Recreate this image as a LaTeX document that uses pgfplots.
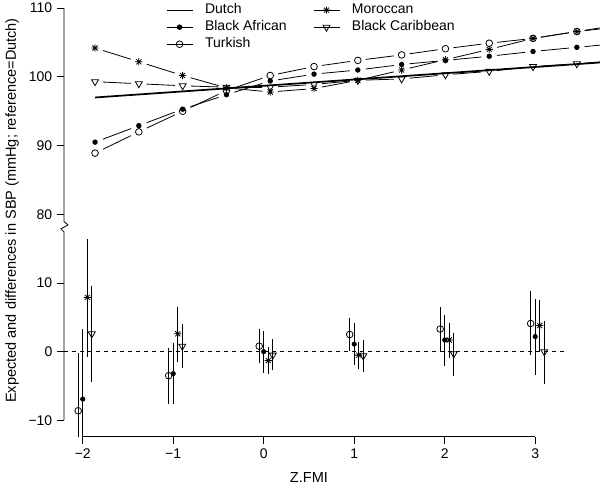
\documentclass[border=0pt]{standalone}
\usepackage{fontspec}
\setmainfont{Liberation Sans}
\usepackage{pgfplots}
\usepackage{pgfplotstable}
\pgfplotsset{compat=1.18}

\newcommand\fs{\fontsize{10.5}{12.6}\selectfont}
\newcommand\fl{\fontsize{10.9}{13}\selectfont}

% R pch=8: + and x together
\pgfdeclareplotmark{rstar}{%
  \pgfpathmoveto{\pgfqpoint{-\pgfplotmarksize}{0pt}}\pgfpathlineto{\pgfqpoint{\pgfplotmarksize}{0pt}}%
  \pgfpathmoveto{\pgfqpoint{0pt}{-\pgfplotmarksize}}\pgfpathlineto{\pgfqpoint{0pt}{\pgfplotmarksize}}%
  \pgfpathmoveto{\pgfqpoint{-0.7071\pgfplotmarksize}{-0.7071\pgfplotmarksize}}\pgfpathlineto{\pgfqpoint{0.7071\pgfplotmarksize}{0.7071\pgfplotmarksize}}%
  \pgfpathmoveto{\pgfqpoint{-0.7071\pgfplotmarksize}{0.7071\pgfplotmarksize}}\pgfpathlineto{\pgfqpoint{0.7071\pgfplotmarksize}{-0.7071\pgfplotmarksize}}%
  \pgfusepathqstroke}

% expected SBP (upper panel), plotted at y-60
\pgfplotstableread{
x      tur   baf   mor   car
-1.864 88.9  90.5  104.2 99.3
-1.380 92.0  92.9  102.2 99.0
-0.896 95.0  95.3  100.2 98.7
-0.412 98.0  97.4  98.4  98.5
0.072  100.2 99.4  97.8  98.5
0.556  101.5 100.4 98.3  98.9
1.040  102.4 101.0 99.5  99.5
1.524  103.2 101.8 101.0 99.7
2.008  104.1 102.4 102.5 100.3
2.492  104.9 103.0 104.0 100.8
2.976  105.6 103.7 105.6 101.5
3.460  106.6 104.3 106.6 101.9
3.944  107.3 104.9 107.6 102.4
}\upper
\pgfplotstableread{
x      dut
-1.864 97.0
3.944  102.3
}\dutch
\pgfplotstablecreatecol[create col/expr={\nextrow{x}-\thisrow{x}}]{dx}\upper
\pgfplotstablecreatecol[create col/expr={\nextrow{tur}-\thisrow{tur}}]{dtur}\upper
\pgfplotstablecreatecol[create col/expr={\nextrow{baf}-\thisrow{baf}}]{dbaf}\upper
\pgfplotstablecreatecol[create col/expr={\nextrow{mor}-\thisrow{mor}}]{dmor}\upper
\pgfplotstablecreatecol[create col/expr={\nextrow{car}-\thisrow{car}}]{dcar}\upper

% differences with 95% CI (lower panel)
\pgfplotstableread{
x  y    lo    hi
-2 -8.6 -16.6 -0.6
-1 -3.5 -7.2  0.2
0  0.8  -1.3  3.0
1  2.5  0.5   4.5
2  3.3  0.5   6.1
3  4.1  -0.1  8.4
}\ltur
\pgfplotstableread{
x  y    lo    hi
-2 -6.9 -16.7 2.9
-1 -3.2 -7.3  0.9
0  0.0  -2.7  2.6
1  1.1  -1.5  3.8
2  1.7  -1.7  5.0
3  2.2  -3.0  7.3
}\lbaf
\pgfplotstableread{
x  y    lo    hi
-2 7.9  -0.4  16.0
-1 2.6  -1.1  6.2
0  -1.3 -2.9  0.3
1  -0.5 -2.2  1.0
2  1.7  -0.5  3.8
3  3.8  0.5   7.2
}\lmor
\pgfplotstableread{
x  y    lo    hi
-2 2.6  -4.1  9.2
-1 0.8  -2.0  3.7
0  -0.5 -2.3  1.5
1  -0.6 -2.6  1.4
2  -0.3 -3.1  2.4
3  0.0  -4.4  4.1
}\lcar

% axis units in pt (402pt / 5.923, 327.5pt / 63.56)
\def\ux{67.872}
\def\uy{5.1526}

\pgfplotsset{
  % type="b": each point draws the segment to the next one, with gaps
  typeb/.style={forget plot, only marks, scatter, black,
    scatter/use mapped color={draw=black, fill=black},
    visualization depends on={\thisrow{dx} \as \ddx},
    visualization depends on={\thisrow{#1} \as \ddy},
    scatter/@pre marker code/.code={%
      \pgfmathsetmacro\ax{0.18*\ddx*\ux}\pgfmathsetmacro\ay{0.18*\ddy*\uy}%
      \pgfmathsetmacro\bx{0.82*\ddx*\ux}\pgfmathsetmacro\by{0.82*\ddy*\uy}%
      \pgfpathmoveto{\pgfpoint{\ax pt}{\ay pt}}\pgfpathlineto{\pgfpoint{\bx pt}{\by pt}}%
      \pgfsetlinewidth{0.6pt}\pgfsetdash{}{0pt}\pgfusepath{stroke}%
      \pgfscope},
    scatter/@post marker code/.code={\endpgfscope}},
  mtur/.style={mark=o, mark size=2.5pt, mark options={line width=0.6pt}},
  mbaf/.style={mark=*, mark size=1.7pt},
  mmor/.style={mark=rstar, mark size=2.7pt, mark options={line width=0.6pt}},
  mcar/.style={mark=triangle, mark size=3pt, mark options={rotate=180, line width=0.6pt}},
  ci/.style={only marks, black, forget plot,
    error bars/y dir=both, error bars/y explicit,
    error bars/error bar style={line width=0.6pt},
    error bars/error mark options={mark size=1.9pt, line width=0.6pt}},
}

\begin{document}
\begin{tikzpicture}
\begin{axis}[
  at={(0,0)}, anchor=south west, scale only axis,
  width=402pt, height=327.5pt,
  xmin=-2.207, xmax=3.716, ymin=-12.37, ymax=51.19,
  clip mode=individual,
  axis line style={draw=none},
  xtick={-2,-1,0,1,2,3}, xticklabels={−2,−1,0,1,2,3},
  ytick={-10,0,10,20,30,40,50}, yticklabels={−10,0,10,80,90,100,110},
  tick pos=left, tick align=outside, major tick length=5.25pt,
  tick style={black, line width=0.6pt},
  tick label style={font=\fs},
  xlabel={Z.FMI}, ylabel={Expected and differences in SBP (mmHg; reference=Dutch)},
  label style={font=\fl},
  xlabel style={at={(axis description cs:0.457,-0.0946)}, anchor=center},
  ylabel style={at={(axis description cs:-0.097,0.518)}, anchor=center},
  legend columns=2, legend cell align=left,
  legend style={at={(axis description cs:0.19,1)}, anchor=north west, yshift=-2.6pt,
    draw=none, fill=none, inner sep=0pt, font=\fs, row sep=3.2pt, column sep=0pt,
    nodes={inner sep=0pt, text height=7.6pt, text depth=2pt}},
  legend image code/.code={\draw[mark repeat=2, mark phase=2, #1]
    plot coordinates {(0pt,0pt) (9.75pt,0pt) (19.5pt,0pt)};
    \path (28.5pt,0pt);},
]
% upper panel
\addplot[typeb=dtur, mtur] table[x=x, y expr=\thisrow{tur}-60, skip coords between index={12}{13}] {\upper};
\addplot[typeb=dbaf, mbaf] table[x=x, y expr=\thisrow{baf}-60, skip coords between index={12}{13}] {\upper};
\addplot[typeb=dmor, mmor] table[x=x, y expr=\thisrow{mor}-60, skip coords between index={12}{13}] {\upper};
\addplot[typeb=dcar, mcar] table[x=x, y expr=\thisrow{car}-60, skip coords between index={12}{13}] {\upper};
\addplot[black, line width=1.3pt, forget plot] table[x=x, y expr=\thisrow{dut}-60] {\dutch};

% lower panel
\addplot[black, dash pattern=on 3pt off 3pt, line width=0.6pt, forget plot] coordinates {(-2.207,0) (3.33,0)};
\addplot[ci, mtur] table[x expr=\thisrow{x}-0.05, y=y, y error plus expr=\thisrow{hi}-\thisrow{y}, y error minus expr=\thisrow{y}-\thisrow{lo}] {\ltur};
\addplot[ci, mbaf] table[x=x, y=y, y error plus expr=\thisrow{hi}-\thisrow{y}, y error minus expr=\thisrow{y}-\thisrow{lo}] {\lbaf};
\addplot[ci, mmor] table[x expr=\thisrow{x}+0.05, y=y, y error plus expr=\thisrow{hi}-\thisrow{y}, y error minus expr=\thisrow{y}-\thisrow{lo}] {\lmor};
\addplot[ci, mcar] table[x expr=\thisrow{x}+0.1, y=y, y error plus expr=\thisrow{hi}-\thisrow{y}, y error minus expr=\thisrow{y}-\thisrow{lo}] {\lcar};

% axis lines, y axis with a break
\draw[line width=0.6pt] (axis cs:-2.207,50) -- (axis cs:-2.207,18.94) -- ++(3pt,-2.5pt) -- ++(-5.25pt,-3pt) -- ++(2.25pt,-2.25pt) -- (axis cs:-2.207,-10);
\draw[line width=0.6pt] (axis cs:-2,-12.37) -- (axis cs:3,-12.37);

\addlegendimage{black, line width=0.7pt}
\addlegendentry{\makebox[81pt][l]{Dutch}}
\addlegendimage{black, line width=0.7pt, mmor}
\addlegendentry{Moroccan}
\addlegendimage{black, line width=0.7pt, mbaf}
\addlegendentry{\makebox[81pt][l]{Black African}}
\addlegendimage{black, line width=0.7pt, mcar}
\addlegendentry{Black Caribbean}
\addlegendimage{black, line width=0.7pt, mtur}
\addlegendentry{\makebox[81pt][l]{Turkish}}
\end{axis}
\pgfresetboundingbox
\path[use as bounding box] (-48pt,-38.5pt) rectangle (402pt,327.5pt);
\end{tikzpicture}
\end{document}
